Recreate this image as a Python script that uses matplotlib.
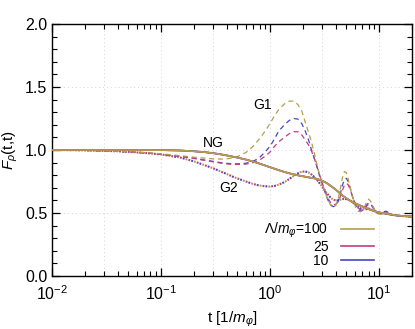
import matplotlib
matplotlib.use("Agg")
import matplotlib.pyplot as plt
from matplotlib.ticker import MultipleLocator, LogLocator, NullFormatter, FormatStrFormatter

plt.rcParams['font.family'] = ['Liberation Sans', 'DejaVu Sans']
plt.rcParams['mathtext.fontset'] = 'custom'
plt.rcParams['mathtext.rm'] = 'Liberation Sans'
plt.rcParams['mathtext.it'] = 'Liberation Sans:italic'
plt.rcParams['mathtext.bf'] = 'Liberation Sans:bold'

# ---- data ----
t = [0.01, 0.02, 0.04, 0.07, 0.1, 0.15, 0.2, 0.25, 0.3, 0.35, 0.4, 0.45, 0.5, 0.6, 0.7,
     0.8, 0.9, 1.0, 1.1, 1.2, 1.35, 1.5, 1.65, 1.8, 1.95, 2.1, 2.25, 2.4, 2.55, 2.7, 2.85,
     3.0, 3.2, 3.4, 3.6, 3.8, 4.0, 4.2, 4.4, 4.6, 4.8, 5.0, 5.2, 5.5, 5.8, 6.1, 6.4, 6.8,
     7.2, 7.6, 8.0, 8.4, 8.8, 9.3, 9.8, 10.4, 11.0, 11.6, 12.3, 13.0, 14.5, 16.0, 18.0, 20.0]

ng = [1.0, 1.0, 1.0, 1.0, 0.999, 0.996, 0.99, 0.983, 0.975, 0.966, 0.957, 0.948, 0.94, 0.924, 0.908,
      0.892, 0.877, 0.863, 0.851, 0.84, 0.826, 0.815, 0.806, 0.799, 0.793, 0.788, 0.783, 0.778, 0.775, 0.77, 0.763,
      0.755, 0.745, 0.73, 0.715, 0.70, 0.685, 0.67, 0.655, 0.64, 0.628, 0.617, 0.607, 0.595, 0.584, 0.575, 0.567, 0.557,
      0.548, 0.539, 0.531, 0.524, 0.518, 0.512, 0.507, 0.502, 0.498, 0.494, 0.490, 0.487, 0.481, 0.477, 0.474, 0.472]

g1_100 = [1.0, 0.997, 0.99, 0.98, 0.97, 0.955, 0.943, 0.935, 0.93, 0.928, 0.93, 0.937, 0.947, 0.98, 1.03,
          1.09, 1.15, 1.21, 1.275, 1.32, 1.365, 1.388, 1.388, 1.36, 1.31, 1.22, 1.14, 1.06, 0.97, 0.88, 0.80,
          0.74, 0.66, 0.60, 0.56, 0.545, 0.56, 0.61, 0.69, 0.78, 0.83, 0.82, 0.77, 0.68, 0.60, 0.545, 0.515, 0.51,
          0.53, 0.58, 0.61, 0.59, 0.55, 0.51, 0.495, 0.49, 0.495, 0.50, 0.495, 0.485, 0.478, 0.475, 0.472, 0.47]

g1_25 = [1.0, 0.997, 0.99, 0.978, 0.966, 0.949, 0.933, 0.918, 0.906, 0.897, 0.89, 0.886, 0.885, 0.888, 0.90,
         0.92, 0.95, 0.985, 1.03, 1.065, 1.10, 1.13, 1.145, 1.145, 1.12, 1.08, 1.04, 0.99, 0.93, 0.865, 0.80,
         0.74, 0.67, 0.615, 0.58, 0.565, 0.57, 0.59, 0.63, 0.68, 0.72, 0.735, 0.725, 0.67, 0.61, 0.565, 0.54, 0.525,
         0.53, 0.55, 0.57, 0.565, 0.545, 0.515, 0.50, 0.495, 0.50, 0.505, 0.495, 0.487, 0.48, 0.476, 0.472, 0.47]

g1_10 = [1.0, 0.997, 0.99, 0.978, 0.967, 0.95, 0.935, 0.92, 0.91, 0.90, 0.894, 0.891, 0.89, 0.895, 0.91,
         0.94, 0.985, 1.03, 1.09, 1.15, 1.20, 1.235, 1.25, 1.245, 1.21, 1.15, 1.08, 1.00, 0.93, 0.86, 0.79,
         0.735, 0.66, 0.60, 0.565, 0.55, 0.56, 0.59, 0.65, 0.72, 0.765, 0.775, 0.75, 0.68, 0.61, 0.56, 0.53, 0.515,
         0.525, 0.56, 0.58, 0.57, 0.54, 0.51, 0.495, 0.495, 0.51, 0.515, 0.50, 0.488, 0.48, 0.476, 0.472, 0.47]

g2 = [1.0, 0.997, 0.99, 0.977, 0.965, 0.94, 0.91, 0.88, 0.855, 0.83, 0.81, 0.79, 0.775, 0.75, 0.73,
      0.718, 0.712, 0.71, 0.715, 0.725, 0.745, 0.77, 0.795, 0.815, 0.828, 0.83, 0.822, 0.805, 0.785, 0.76, 0.735,
      0.71, 0.675, 0.645, 0.62, 0.605, 0.60, 0.60, 0.605, 0.61, 0.612, 0.61, 0.605, 0.595, 0.58, 0.565, 0.55, 0.535,
      0.53, 0.53, 0.535, 0.53, 0.52, 0.51, 0.502, 0.498, 0.497, 0.495, 0.49, 0.486, 0.48, 0.476, 0.473, 0.47]

lambdas = ['100', '25', '10']
legend_labels = ['Λ/$m_\\varphi$=100', '25', '10']
colors = {'100': '#b39f4a', '25': '#c23c82', '10': '#4646c4'}
g1 = {'100': g1_100, '25': g1_25, '10': g1_10}

xgrid = [0.03, 0.1, 0.3, 1, 3, 10]
ygrid = [0.5, 1.0, 1.5]

# ---- figure ----
fig = plt.figure(figsize=(4.15, 3.29), dpi=100)
ax = fig.add_axes([52/415, 1-276/329, 360/415, 252/329])

for xv in xgrid:
    ax.axvline(xv, color='#d4d4d4', lw=0.7, ls=(0, (1, 3)), zorder=0)
for yv in ygrid:
    ax.axhline(yv, color='#d4d4d4', lw=0.7, ls=(0, (1, 3)), zorder=0)

# G2 dotted (interleaved colours)
for i, lam in enumerate(['10', '25', '100']):
    ax.plot(t, g2, color=colors[lam], lw=1.5, ls=(i * 1.4, (0.9, 3.3)), zorder=2)

# G1 dashed
for lam in ['10', '25', '100']:
    ax.plot(t, g1[lam], color=colors[lam], lw=0.9, ls=(0, (4, 3)), zorder=3)

# NG solid
handles = {}
for lam in ['10', '25', '100']:
    h, = ax.plot(t, ng, color=colors[lam], lw=1.2, zorder=4)
    handles[lam] = h

ax.set_xscale('log')
ax.set_xlim(0.01, 20)
ax.set_ylim(0, 2.0)
ax.yaxis.set_major_locator(MultipleLocator(0.5))
ax.yaxis.set_minor_locator(MultipleLocator(0.1))
ax.yaxis.set_major_formatter(FormatStrFormatter('%.1f'))
ax.xaxis.set_major_locator(LogLocator(base=10, numticks=10))
ax.xaxis.set_minor_locator(LogLocator(base=10, subs=range(2, 10), numticks=20))
ax.xaxis.set_minor_formatter(NullFormatter())

ax.tick_params(which='both', direction='in', top=True, right=True, labelsize=11.5, colors='black')
ax.tick_params(which='major', length=6, width=0.9)
ax.tick_params(which='minor', length=3.5, width=0.8)
ax.tick_params(axis='x', pad=6)
for s in ax.spines.values():
    s.set_linewidth(1.0)

ax.set_ylabel(r'$F_\rho$(t,t)', fontsize=11)
ax.yaxis.set_label_coords(-0.09, 0.5)
ax.set_xlabel(r't [1/$m_\varphi$]', fontsize=11, labelpad=5)

ax.text(0.86, 1.36, 'G1', fontsize=10, ha='center', va='center')
ax.text(0.3, 1.055, 'NG', fontsize=10, ha='center', va='center')
ax.text(0.42, 0.70, 'G2', fontsize=10, ha='center', va='center')

leg = ax.legend([handles[l] for l in lambdas], legend_labels,
                loc='lower right', bbox_to_anchor=(0.911, 0.01), frameon=False,
                markerfirst=False, fontsize=10, handlelength=2.4, labelspacing=0.0,
                handletextpad=0.9, borderaxespad=0, handleheight=0.5)

fig.savefig('out.png', dpi=100)
